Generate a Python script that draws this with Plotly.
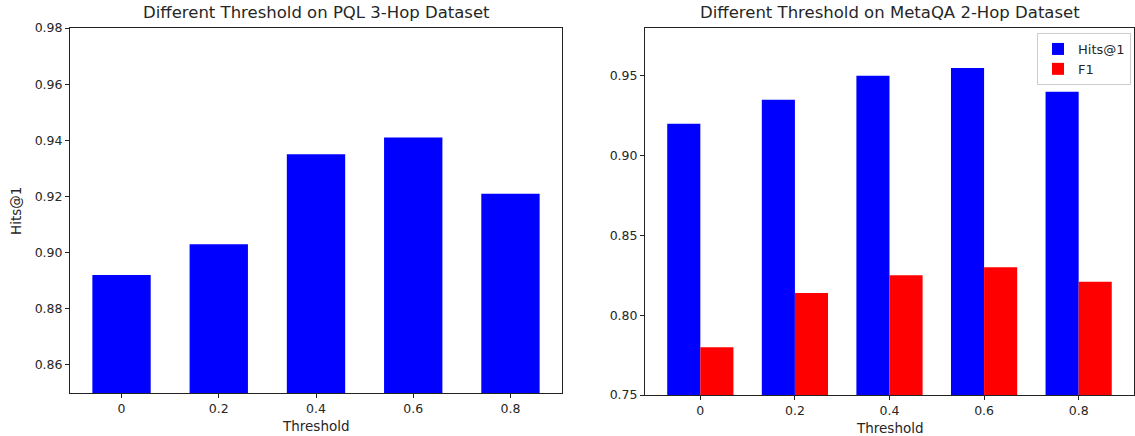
import plotly.graph_objects as go

thresholds = ['0', '0.2', '0.4', '0.6', '0.8']
pql_hits = [0.892, 0.903, 0.935, 0.941, 0.921]
metaqa_hits = [0.920, 0.935, 0.950, 0.955, 0.940]
metaqa_f1 = [0.780, 0.814, 0.825, 0.830, 0.821]

W, H = 1135, 436
pos = list(range(len(thresholds)))
FONT = "DejaVu Sans"
TXT = '#262626'

def px_x(v):
    return v / W

def px_y(v):
    return 1 - v / H

fig = go.Figure()
fig.add_trace(go.Bar(x=pos, y=pql_hits, width=0.6, marker=dict(color='#0000ff', line=dict(width=0)),
                     xaxis='x', yaxis='y', showlegend=False, name='Hits@1'))
fig.add_trace(go.Bar(x=pos, y=metaqa_hits, width=0.35, offset=-0.35,
                     marker=dict(color='#0000ff', line=dict(width=0)),
                     name='Hits@1', xaxis='x2', yaxis='y2'))
fig.add_trace(go.Bar(x=pos, y=metaqa_f1, width=0.35, offset=0,
                     marker=dict(color='#ff0000', line=dict(width=0)),
                     name='F1', xaxis='x2', yaxis='y2'))

axis_common = dict(showline=True, linecolor='#222', linewidth=1, mirror=True,
                   ticks='outside', ticklen=4, tickcolor='#222', showgrid=False,
                   zeroline=False, automargin=False,
                   tickfont=dict(family=FONT, size=12.5, color=TXT))

fig.update_layout(
    template='none',
    width=W, height=H,
    margin=dict(l=0, r=0, t=0, b=0, pad=0),
    paper_bgcolor='white', plot_bgcolor='white',
    barmode='overlay',
    font=dict(family=FONT, color=TXT),
    xaxis=dict(domain=[px_x(70), px_x(562)], range=[-0.53, 4.53],
               tickvals=pos, ticktext=thresholds, anchor='y', **axis_common),
    yaxis=dict(domain=[px_y(393), px_y(28)], range=[0.85, 0.98],
               tickvals=[0.86, 0.88, 0.90, 0.92, 0.94, 0.96, 0.98],
               tickformat='.2f', anchor='x', **axis_common),
    xaxis2=dict(domain=[px_x(645), px_x(1134)], range=[-0.585, 4.585],
                tickvals=pos, ticktext=thresholds, anchor='y2', **axis_common),
    yaxis2=dict(domain=[px_y(395), px_y(28)], range=[0.75, 0.98],
                tickvals=[0.75, 0.80, 0.85, 0.90, 0.95],
                tickformat='.2f', anchor='x2', **axis_common),
    legend=dict(x=px_x(1131), xanchor='right', y=px_y(33), yanchor='top',
                bordercolor='#cccccc', borderwidth=1, bgcolor='white',
                tracegroupgap=2, itemwidth=30,
                font=dict(family=FONT, size=13, color=TXT)),
    annotations=[
        dict(text='Different Threshold on PQL 3-Hop Dataset', x=px_x(316), y=px_y(13),
             xref='paper', yref='paper', showarrow=False, xanchor='center', yanchor='middle',
             font=dict(family=FONT, size=16.5, color=TXT)),
        dict(text='Different Threshold on MetaQA 2-Hop Dataset', x=px_x(890), y=px_y(13),
             xref='paper', yref='paper', showarrow=False, xanchor='center', yanchor='middle',
             font=dict(family=FONT, size=16.5, color=TXT)),
        dict(text='Threshold', x=px_x(316), y=px_y(426),
             xref='paper', yref='paper', showarrow=False, xanchor='center', yanchor='middle',
             font=dict(family=FONT, size=13.5, color=TXT)),
        dict(text='Threshold', x=px_x(890), y=px_y(428),
             xref='paper', yref='paper', showarrow=False, xanchor='center', yanchor='middle',
             font=dict(family=FONT, size=13.5, color=TXT)),
        dict(text='Hits@1', x=px_x(16), y=px_y(211), textangle=-90,
             xref='paper', yref='paper', showarrow=False, xanchor='center', yanchor='middle',
             font=dict(family=FONT, size=13.5, color=TXT)),
    ],
)

fig.write_html("out.html", config={'displayModeBar': False},
               post_script="document.body.style.margin='0';document.body.style.overflow='hidden';")
